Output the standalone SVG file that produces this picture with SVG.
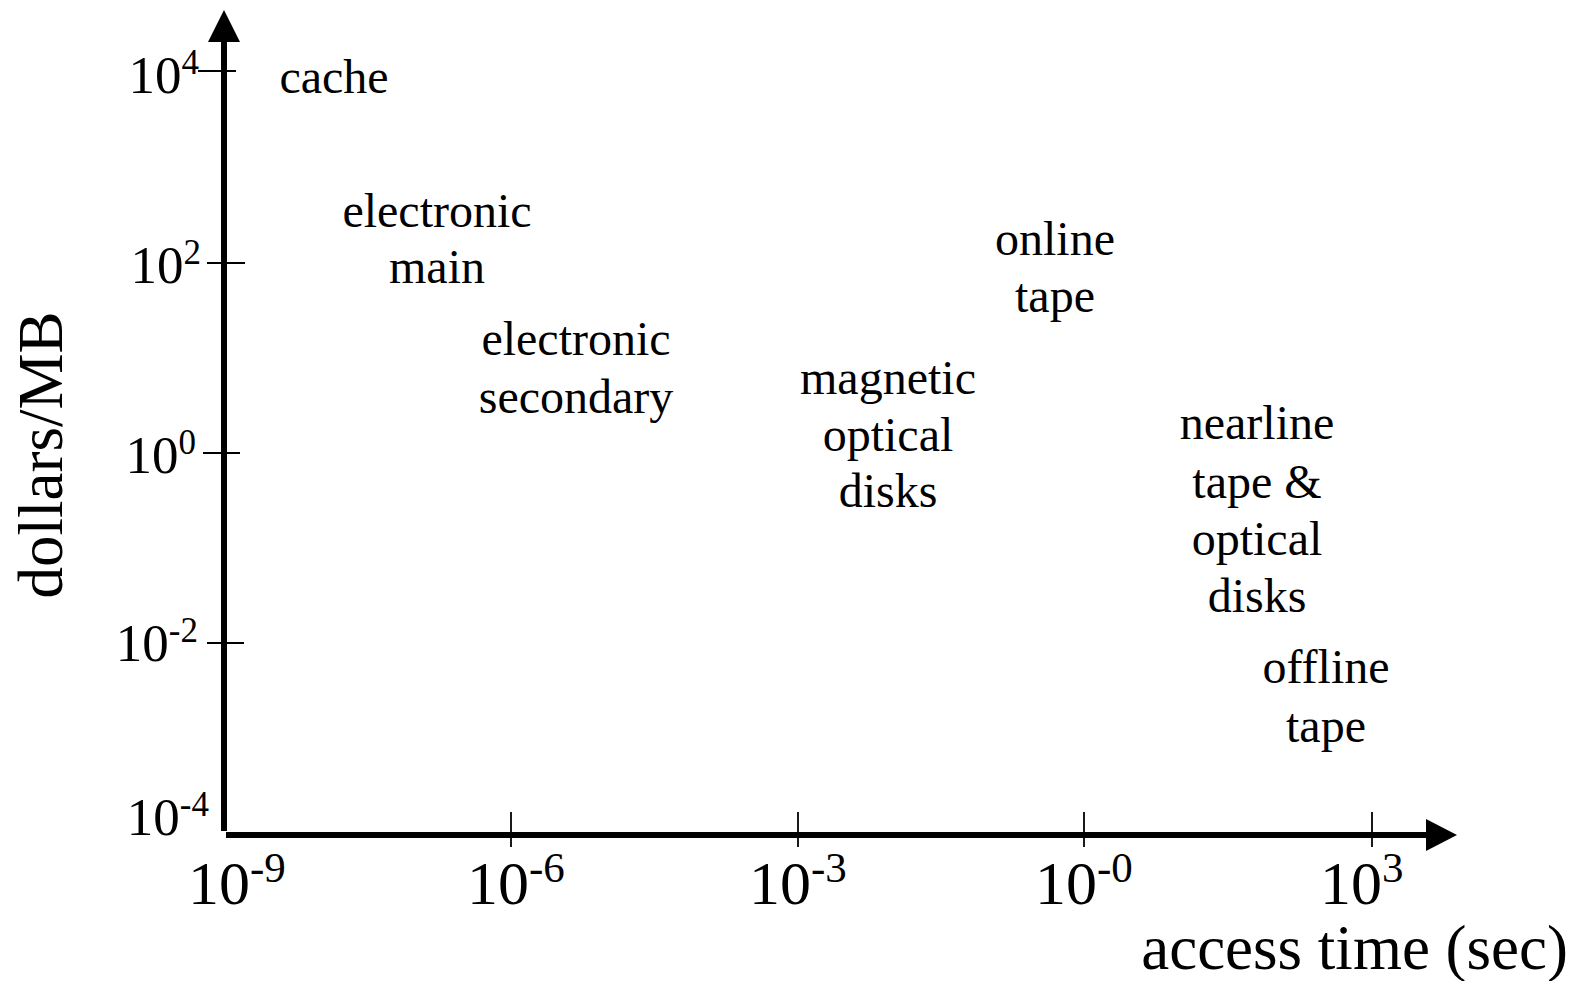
<svg xmlns="http://www.w3.org/2000/svg" width="1580" height="981" viewBox="0 0 1580 981">
  <style>
    text { font-family: "Liberation Serif", "Times New Roman", serif; fill: #000; }
    .lbl { font-size: 48px; text-anchor: middle; }
    .ytl { font-size: 53px; text-anchor: end; }
    .xtl { font-size: 62px; }
    .title { font-size: 63px; }
    .axis { stroke: #000; stroke-width: 6; fill: none; }
    .tick { stroke: #000; stroke-width: 1.8; fill: none; }
  </style>
  <rect width="1580" height="981" fill="#fff"/>

  <!-- axes -->
  <g id="axes">
    <line class="axis" x1="224" y1="831" x2="224" y2="38"/>
    <polygon points="224,10 208,42 240,42" fill="#000"/>
    <line class="axis" x1="226" y1="835" x2="1430" y2="835"/>
    <polygon points="1457,835 1426,819 1426,851" fill="#000"/>
  </g>

  <!-- tick marks -->
  <g id="ticks">
    <line class="tick" x1="198" y1="71" x2="236" y2="71"/>
    <line class="tick" x1="207" y1="263" x2="245" y2="263"/>
    <line class="tick" x1="203" y1="453" x2="240" y2="453"/>
    <line class="tick" x1="207" y1="643" x2="244" y2="643"/>
    <line class="tick" x1="511" y1="812" x2="511" y2="847"/>
    <line class="tick" x1="798" y1="812" x2="798" y2="847"/>
    <line class="tick" x1="1084" y1="812" x2="1084" y2="847"/>
    <line class="tick" x1="1372" y1="812" x2="1372" y2="847"/>
  </g>

  <!-- y tick labels -->
  <g id="y-labels">
    <text class="ytl" x="199" y="93">10<tspan font-size="35" dy="-19">4</tspan></text>
    <text class="ytl" x="201" y="283">10<tspan font-size="35" dy="-19">2</tspan></text>
    <text class="ytl" x="196" y="473">10<tspan font-size="35" dy="-19">0</tspan></text>
    <text class="ytl" x="198" y="661">10<tspan font-size="35" dy="-19">-2</tspan></text>
    <text class="ytl" x="209" y="835">10<tspan font-size="35" dy="-19">-4</tspan></text>
  </g>

  <!-- x tick labels -->
  <g id="x-labels">
    <text class="xtl" x="188" y="904">10<tspan font-size="43" dy="-22">-9</tspan></text>
    <text class="xtl" x="467" y="904">10<tspan font-size="43" dy="-22">-6</tspan></text>
    <text class="xtl" x="749" y="904">10<tspan font-size="43" dy="-22">-3</tspan></text>
    <text class="xtl" x="1035" y="904">10<tspan font-size="43" dy="-22">-0</tspan></text>
    <text class="xtl" x="1320" y="904">10<tspan font-size="43" dy="-22">3</tspan></text>
  </g>

  <!-- axis titles -->
  <text class="title" text-anchor="middle" transform="translate(62,455) rotate(-90)">dollars/MB</text>
  <text class="title" text-anchor="end" x="1568" y="969">access time (sec)</text>

  <!-- storage technologies -->
  <g id="cache">
    <text class="lbl" x="334" y="93">cache</text>
  </g>
  <g id="electronic-main">
    <text class="lbl" x="437" y="227">electronic</text>
    <text class="lbl" x="437" y="283">main</text>
  </g>
  <g id="electronic-secondary">
    <text class="lbl" x="576" y="355">electronic</text>
    <text class="lbl" x="576" y="413">secondary</text>
  </g>
  <g id="magnetic-optical-disks">
    <text class="lbl" x="888" y="394">magnetic</text>
    <text class="lbl" x="888" y="451">optical</text>
    <text class="lbl" x="888" y="507">disks</text>
  </g>
  <g id="online-tape">
    <text class="lbl" x="1055" y="255">online</text>
    <text class="lbl" x="1055" y="312">tape</text>
  </g>
  <g id="nearline-tape-optical">
    <text class="lbl" x="1257" y="439">nearline</text>
    <text class="lbl" x="1257" y="498">tape &amp;</text>
    <text class="lbl" x="1257" y="555">optical</text>
    <text class="lbl" x="1257" y="612">disks</text>
  </g>
  <g id="offline-tape">
    <text class="lbl" x="1326" y="683">offline</text>
    <text class="lbl" x="1326" y="742">tape</text>
  </g>
</svg>
